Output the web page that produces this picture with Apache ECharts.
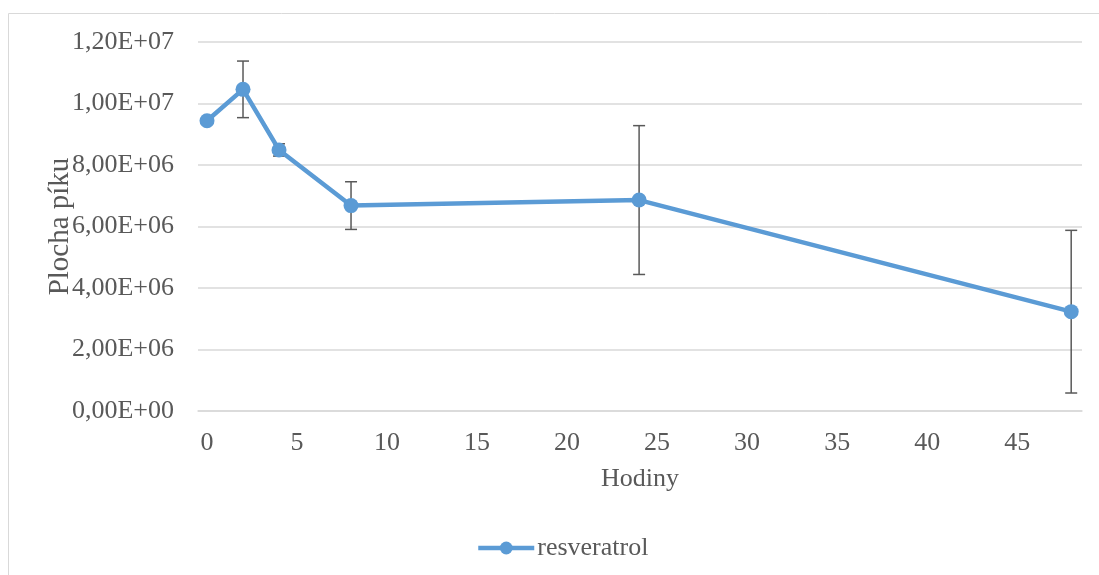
<!DOCTYPE html>
<html>
<head>
<meta charset="utf-8">
<script src="https://cdn.jsdelivr.net/npm/echarts@6/dist/echarts.min.js"></script>
<style>html,body{margin:0;padding:0;background:#fff}#c{width:1099px;height:575px}</style>
</head>
<body>
<div id="c"></div>
<script>
var hours = [0, 2, 4, 8, 24, 48];
var peakArea = [9.44e6, 10.46e6, 8.49e6, 6.68e6, 6.86e6, 3.23e6];
var errors = [0, 0.92e6, 0.2e6, 0.775e6, 2.42e6, 2.645e6];
var xTickValues = [0, 5, 10, 15, 20, 25, 30, 35, 40, 45];
var seriesName = 'resveratrol';

function sci(v) {
  if (v === 0) return '0,00E+00';
  var e = Math.floor(Math.log10(Math.abs(v)) + 1e-9);
  var m = v / Math.pow(10, e);
  return m.toFixed(2).replace('.', ',') + 'E+' + (e < 10 ? '0' + e : e);
}

var lineData = hours.map(function (h, i) { return [h, peakArea[i]]; });
var errData = hours.map(function (h, i) { return [h, peakArea[i] - errors[i], peakArea[i] + errors[i]]; });

var font = 'Liberation Serif';
var fs = 26;
var txt = '#595959';
var chart = echarts.init(document.getElementById('c'));
chart.setOption({
  animation: false,
  textStyle: { fontFamily: font },
  graphic: [{
    type: 'rect', silent: true, z: -10,
    shape: { x: 8.5, y: 13.5, width: 1200, height: 700 },
    style: { fill: 'none', stroke: '#d9d9d9', lineWidth: 1 }
  }],
  grid: { left: 198, right: 17, top: 42, bottom: 164 },
  legend: {
    data: [seriesName], left: 471, top: 530,
    itemWidth: 56, itemHeight: 16, itemGap: 5,
    lineStyle: { width: 4.5 },
    textStyle: { fontFamily: font, fontSize: fs, color: txt, padding: [0, 0, 0, -2] }
  },
  xAxis: {
    type: 'value', min: -0.5, max: 48.6,
    name: 'Hodiny', nameLocation: 'middle', nameGap: 55,
    nameMoveOverlap: false,
    nameTextStyle: { fontFamily: font, fontSize: fs, color: txt },
    axisLine: { show: true, lineStyle: { color: '#d9d9d9', width: 1.5 } },
    axisTick: { show: false },
    splitLine: { show: false },
    axisLabel: { customValues: xTickValues, margin: 19, fontFamily: font, fontSize: fs, color: txt }
  },
  yAxis: {
    type: 'value', min: 0, max: 1.2e7, interval: 2e6,
    name: 'Plocha píku', nameLocation: 'middle', nameGap: 123,
    nameMoveOverlap: false,
    nameTextStyle: { fontFamily: font, fontSize: 29, color: txt },
    axisLine: { show: false }, axisTick: { show: false },
    splitLine: { lineStyle: { color: '#d9d9d9', width: 1.5 } },
    axisLabel: { margin: 24, fontFamily: font, fontSize: fs, color: txt, formatter: sci }
  },
  series: [{
    type: 'custom', name: 'err', z: 1, silent: true,
    data: errData,
    encode: { x: 0, y: [1, 2] },
    renderItem: function (params, api) {
      var x = api.value(0);
      if (api.value(2) - api.value(1) <= 0) return;
      var lo = api.coord([x, api.value(1)]);
      var hi = api.coord([x, api.value(2)]);
      var hw = 6;
      var st = { stroke: '#595959', lineWidth: 1.5 };
      return {
        type: 'group', children: [
          { type: 'line', shape: { x1: lo[0], y1: lo[1], x2: hi[0], y2: hi[1] }, style: st },
          { type: 'line', shape: { x1: lo[0] - hw, y1: lo[1], x2: lo[0] + hw, y2: lo[1] }, style: st },
          { type: 'line', shape: { x1: hi[0] - hw, y1: hi[1], x2: hi[0] + hw, y2: hi[1] }, style: st }
        ]
      };
    }
  }, {
    type: 'line', name: seriesName, z: 5,
    data: lineData,
    symbol: 'circle', symbolSize: 15,
    lineStyle: { color: '#5b9bd5', width: 4.5 },
    itemStyle: { color: '#5b9bd5' }
  }]
});
</script>
</body>
</html>
